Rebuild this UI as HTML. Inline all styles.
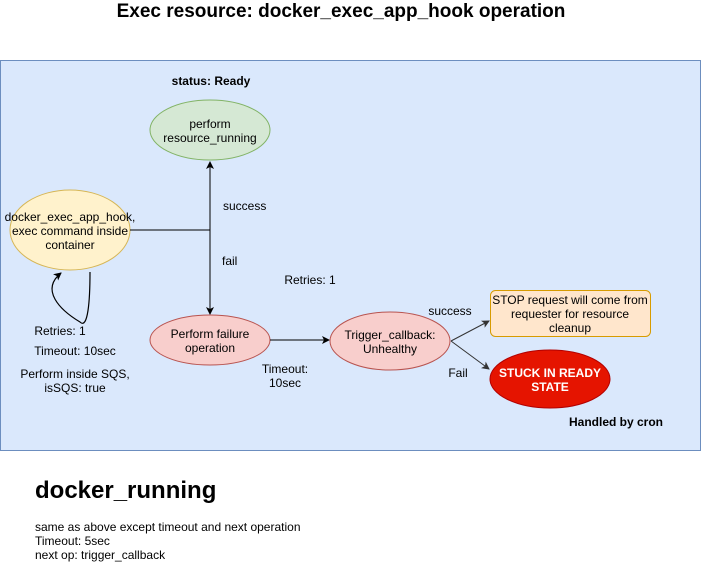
<!DOCTYPE html>
<html><head><meta charset="utf-8"><style>
html,body{margin:0;padding:0;background:#fff;}
svg{display:block;font-family:"Liberation Sans",sans-serif;}
</style></head><body>
<svg width="701" height="571" viewBox="0 0 701 571" xmlns="http://www.w3.org/2000/svg">
<defs>
<marker id="a" markerWidth="8" markerHeight="8" refX="7" refY="4" orient="auto" markerUnits="userSpaceOnUse">
<path d="M0,0 L8,4 L0,8 L2,4 z" fill="#000"/></marker>
<marker id="g" markerWidth="8" markerHeight="8" refX="7" refY="4" orient="auto" markerUnits="userSpaceOnUse">
<path d="M0,0 L8,4 L0,8 L2,4 z" fill="#333"/></marker>
</defs>
<text x="341" y="17" text-anchor="middle" font-size="19" font-weight="bold">Exec resource: docker_exec_app_hook operation</text>
<rect x="0.5" y="60.5" width="700" height="390" fill="#dae8fc" stroke="#6c8ebf"/>
<text x="211" y="85" text-anchor="middle" font-size="12" font-weight="bold">status: Ready</text>
<ellipse cx="210" cy="130" rx="60" ry="30" fill="#d5e8d4" stroke="#82b366"/>
<text x="210" y="128" text-anchor="middle" font-size="12">perform</text>
<text x="210" y="142" text-anchor="middle" font-size="12">resource_running</text>
<ellipse cx="70" cy="230" rx="60" ry="40" fill="#fff2cc" stroke="#d6b656"/>
<text x="70" y="221" text-anchor="middle" font-size="12">docker_exec_app_hook,</text>
<text x="70" y="235" text-anchor="middle" font-size="12">exec command inside</text>
<text x="70" y="249" text-anchor="middle" font-size="12">container</text>
<path d="M130,230 H210" stroke="#000" fill="none"/>
<path d="M210,230 V162" stroke="#000" fill="none" marker-end="url(#a)"/>
<path d="M210,230 V314" stroke="#000" fill="none" marker-end="url(#a)"/>
<text x="223" y="210" font-size="12">success</text>
<text x="222" y="265" font-size="12">fail</text>
<path d="M90,272 C90,300 88,330 80,322 C60,310 40,290 61,273" stroke="#000" fill="none" stroke-width="1.2" marker-end="url(#a)"/>
<text x="60" y="335" text-anchor="middle" font-size="12">Retries: 1</text>
<text x="75" y="355" text-anchor="middle" font-size="12">Timeout: 10sec</text>
<text x="75" y="378" text-anchor="middle" font-size="12">Perform inside SQS,</text>
<text x="75" y="392" text-anchor="middle" font-size="12">isSQS: true</text>
<ellipse cx="210" cy="340" rx="60" ry="25" fill="#f8cecc" stroke="#b85450"/>
<text x="210" y="338" text-anchor="middle" font-size="12">Perform failure</text>
<text x="210" y="352" text-anchor="middle" font-size="12">operation</text>
<path d="M270,340 H329" stroke="#000" fill="none" marker-end="url(#a)"/>
<text x="285" y="373" text-anchor="middle" font-size="12">Timeout:</text>
<text x="285" y="387" text-anchor="middle" font-size="12">10sec</text>
<text x="310" y="284" text-anchor="middle" font-size="12">Retries: 1</text>
<ellipse cx="390" cy="341" rx="60" ry="29" fill="#f8cecc" stroke="#b85450"/>
<text x="390" y="339" text-anchor="middle" font-size="12">Trigger_callback:</text>
<text x="390" y="353" text-anchor="middle" font-size="12">Unhealthy</text>
<path d="M451,341 L489,321" stroke="#333" fill="none" marker-end="url(#g)"/>
<path d="M451,341 L489,369" stroke="#333" fill="none" marker-end="url(#g)"/>
<text x="450" y="315" text-anchor="middle" font-size="12">success</text>
<text x="458" y="377" text-anchor="middle" font-size="12">Fail</text>
<rect x="490.5" y="290.5" width="160" height="46" rx="5" fill="#ffe6cc" stroke="#d79b00"/>
<text x="570" y="304" text-anchor="middle" font-size="12">STOP request will come from</text>
<text x="570" y="318" text-anchor="middle" font-size="12">requester for resource</text>
<text x="570" y="332" text-anchor="middle" font-size="12">cleanup</text>
<ellipse cx="550" cy="379" rx="60" ry="29" fill="#e51400" stroke="#b20000"/>
<text x="550" y="377" text-anchor="middle" font-size="12" font-weight="bold" fill="#fff">STUCK IN READY</text>
<text x="550" y="391" text-anchor="middle" font-size="12" font-weight="bold" fill="#fff">STATE</text>
<text x="616" y="426" text-anchor="middle" font-size="12" font-weight="bold">Handled by cron</text>
<text x="35" y="498" font-size="24" font-weight="bold">docker_running</text>
<text x="35" y="531" font-size="12">same as above except timeout and next operation</text>
<text x="35" y="545" font-size="12">Timeout: 5sec</text>
<text x="35" y="559" font-size="12">next op: trigger_callback</text>
</svg>
</body></html>
